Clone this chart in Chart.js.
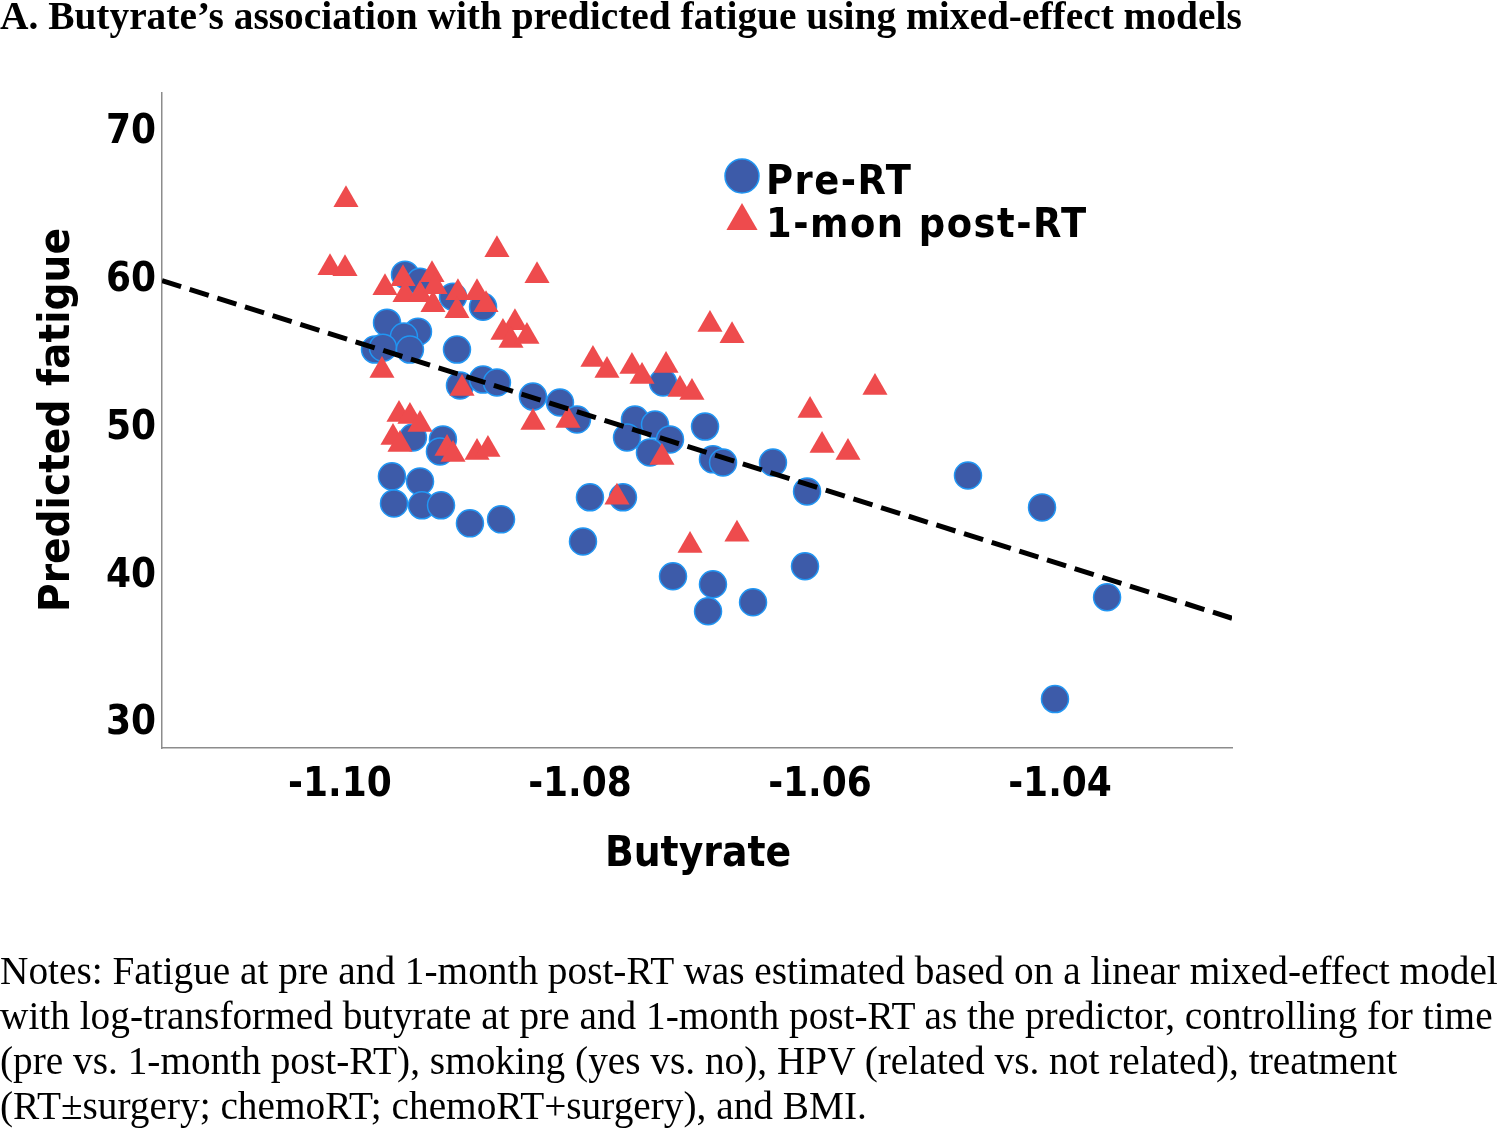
<!DOCTYPE html>
<html lang="en">
<head>
    <meta charset="UTF-8">
    <title>Butyrate vs predicted fatigue</title>
    <script src="https://cdn.jsdelivr.net/npm/chart.js"></script>
    <style>
        body { margin: 0; background: #fff; }
        #wrap { position: relative; width: 1500px; height: 1129px; overflow: hidden; }
        #chart { position: absolute; left: 0; top: 0; }
        .title {
            position: absolute; left: 0; top: -7px;
            font-family: "Liberation Serif", "Times New Roman", serif;
            font-weight: bold; font-size: 39.4px; white-space: nowrap;
        }
        .notes {
            position: absolute; left: 0; top: 949px;
            font-family: "Liberation Serif", "Times New Roman", serif;
            font-size: 39.3px; line-height: 45px; white-space: nowrap;
        }
    </style>
</head>
<body>
<div id="wrap">
    <canvas id="chart" width="1500" height="1129"></canvas>
    <div class="title">A. Butyrate’s association with predicted fatigue using mixed-effect models</div>
    <div class="notes">
        Notes: Fatigue at pre and 1-month post-RT was estimated based on a linear mixed-effect model<br>
        with log-transformed butyrate at pre and 1-month post-RT as the predictor, controlling for time<br>
        (pre vs. 1-month post-RT), smoking (yes vs. no), HPV (related vs. not related), treatment<br>
        (RT±surgery; chemoRT; chemoRT+surgery), and BMI.
    </div>
</div>

<script>
// Pre-RT (circles)
const preX = [-1.09458, -1.09333, -1.09058, -1.08808, -1.09608, -1.0935, -1.09467, -1.09708, -1.09642, -1.09417,
              -1.09025, -1.09, -1.08808, -1.08692, -1.08392, -1.08167, -1.08025, -1.09392, -1.09142, -1.09167,
              -1.09567, -1.09333, -1.0955, -1.09317, -1.09158, -1.08917, -1.08658, -1.07542, -1.07375, -1.07608,
              -1.0725, -1.07417, -1.07308, -1.06958, -1.06892, -1.06808, -1.07917, -1.07642, -1.07975, -1.07225,
              -1.06892, -1.06933, -1.06558, -1.06392, -1.06108, -1.06125, -1.04767, -1.0415, -1.03608, -1.04042];
const preY = [60.14, 59.66, 58.65, 57.97, 56.89, 56.28, 55.95, 55.07, 55.20, 55.07,
              55.07, 52.64, 53.04, 52.84, 51.89, 51.49, 50.34, 49.12, 48.99, 48.18,
              46.49, 46.15, 44.66, 44.53, 44.53, 43.31, 43.58, 50.34, 50.00, 49.12,
              48.99, 48.11, 52.84, 49.86, 47.64, 47.43, 45.07, 45.07, 42.09, 39.73,
              39.19, 37.36, 37.97, 47.43, 45.47, 40.41, 46.55, 44.39, 38.31, 31.42];

// 1-mon post-RT (triangles)
const postX = [-1.0995, -1.10083, -1.09958, -1.09625, -1.09475, -1.09458, -1.09333, -1.09233, -1.09208, -1.09225,
               -1.09017, -1.08858, -1.09025, -1.08783, -1.08692, -1.08358, -1.08542, -1.08642, -1.08575, -1.08442,
               -1.0965, -1.08983, -1.09508, -1.09417, -1.09333, -1.09558, -1.095, -1.09108, -1.09058, -1.08858,
               -1.08767, -1.08392, -1.081, -1.07892, -1.07775, -1.07567, -1.07483, -1.07283, -1.07167, -1.07067,
               -1.06917, -1.06733, -1.07317, -1.07692, -1.07083, -1.06692, -1.06083, -1.05983, -1.05767, -1.05542];
const postY = [65.20, 60.61, 60.54, 59.26, 59.86, 58.78, 58.78, 60.14, 59.32, 58.11,
               58.92, 58.92, 57.70, 58.11, 61.82, 60.07, 56.89, 56.22, 55.68, 55.95,
               53.65, 52.43, 50.68, 50.54, 50.00, 49.12, 48.65, 48.38, 47.97, 48.11,
               48.31, 50.14, 50.27, 54.39, 53.65, 53.92, 53.24, 53.99, 52.36, 52.16,
               56.76, 56.01, 47.77, 45.07, 41.82, 42.57, 50.95, 48.58, 48.11, 52.50];

// fitted line
const fitX = [-1.11483, -1.02567];
const fitY = [59.73, 36.89];

const xTicks = [-1.10, -1.08, -1.06, -1.04];
const yTicks = [30, 40, 50, 60, 70];
const xRange = [-1.11483, -1.02567];
const yRange = [28.11, 72.43];

const seriesNames = ['Pre-RT', '1-mon post-RT'];

const FONT = "'DejaVu Sans Condensed', 'DejaVu Sans', sans-serif";
const BLUE = '#3d5ba9';
const BLUE_EDGE = '#2196f3';
const RED = '#ee4b4d';

const toPoints = (xs, ys) => xs.map((x, i) => ({ x: x, y: ys[i] }));

// legend + axis titles drawn on top
const extras = {
    id: 'extras',
    afterDraw(chart) {
        const ctx = chart.ctx;
        ctx.save();
        ctx.fillStyle = '#000';
        ctx.font = 'bold 42px ' + FONT;
        ctx.textAlign = 'center';
        ctx.textBaseline = 'middle';
        ctx.fillText('Butyrate', 698, 855);
        ctx.font = 'bold 43.5px ' + FONT;
        ctx.translate(58, 420);
        ctx.rotate(-Math.PI / 2);
        ctx.fillText('Predicted fatigue', 0, 0);
        ctx.restore();

        // legend
        ctx.save();
        ctx.beginPath();
        ctx.arc(742, 176, 17, 0, Math.PI * 2);
        ctx.fillStyle = BLUE;
        ctx.fill();
        ctx.lineWidth = 1.5;
        ctx.strokeStyle = BLUE_EDGE;
        ctx.stroke();

        const r = 18, cx = 742, cy = 221;
        ctx.beginPath();
        ctx.moveTo(cx, cy - r);
        ctx.lineTo(cx + r * Math.sin(2 * Math.PI / 3), cy + r / 2);
        ctx.lineTo(cx - r * Math.sin(2 * Math.PI / 3), cy + r / 2);
        ctx.closePath();
        ctx.fillStyle = RED;
        ctx.fill();

        ctx.fillStyle = '#000';
        ctx.font = 'bold 41px ' + FONT;
        ctx.letterSpacing = '1.5px';
        ctx.textAlign = 'left';
        ctx.textBaseline = 'middle';
        ctx.fillText(seriesNames[0], 766, 183);
        ctx.fillText(seriesNames[1], 766, 226);
        ctx.restore();
    }
};

new Chart(document.getElementById('chart'), {
    type: 'scatter',
    data: {
        datasets: [
            {
                label: 'fit',
                type: 'line',
                data: toPoints(fitX, fitY),
                borderColor: '#000',
                borderWidth: 5,
                borderDash: [20, 9],
                pointRadius: 0,
                fill: false,
                order: 0
            },
            {
                label: seriesNames[1],
                data: toPoints(postX, postY),
                pointStyle: 'triangle',
                pointRadius: 14.5,
                backgroundColor: RED,
                borderColor: RED,
                borderWidth: 0,
                order: 1
            },
            {
                label: seriesNames[0],
                data: toPoints(preX, preY),
                pointStyle: 'circle',
                pointRadius: 13.5,
                backgroundColor: BLUE,
                borderColor: BLUE_EDGE,
                borderWidth: 1.5,
                order: 2
            }
        ]
    },
    options: {
        responsive: false,
        maintainAspectRatio: false,
        animation: false,
        devicePixelRatio: 1,
        layout: { padding: { left: 0, top: 93, right: 268, bottom: 0 } },
        plugins: {
            legend: { display: false },
            tooltip: { enabled: false }
        },
        scales: {
            x: {
                type: 'linear',
                min: xRange[0],
                max: xRange[1],
                afterBuildTicks: s => { s.ticks = xTicks.map(v => ({ value: v })); },
                afterFit: s => { s.height = 381; },
                grid: { display: false, drawTicks: false },
                border: { display: true, color: '#8c8c8c', width: 1.5 },
                ticks: {
                    padding: 14,
                    color: '#000',
                    font: { family: FONT, size: 40, weight: 'bold' },
                    callback: v => v.toFixed(2)
                }
            },
            y: {
                type: 'linear',
                min: yRange[0],
                max: yRange[1],
                afterBuildTicks: s => { s.ticks = yTicks.map(v => ({ value: v })); },
                afterFit: s => { s.width = 162; },
                grid: { display: false, drawTicks: false },
                border: { display: true, color: '#8c8c8c', width: 1.5 },
                ticks: {
                    padding: 6,
                    labelOffset: 4,
                    color: '#000',
                    font: { family: FONT, size: 40, weight: 'bold' },
                    callback: v => String(v)
                }
            }
        }
    },
    plugins: [extras]
});
</script>
</body>
</html>
